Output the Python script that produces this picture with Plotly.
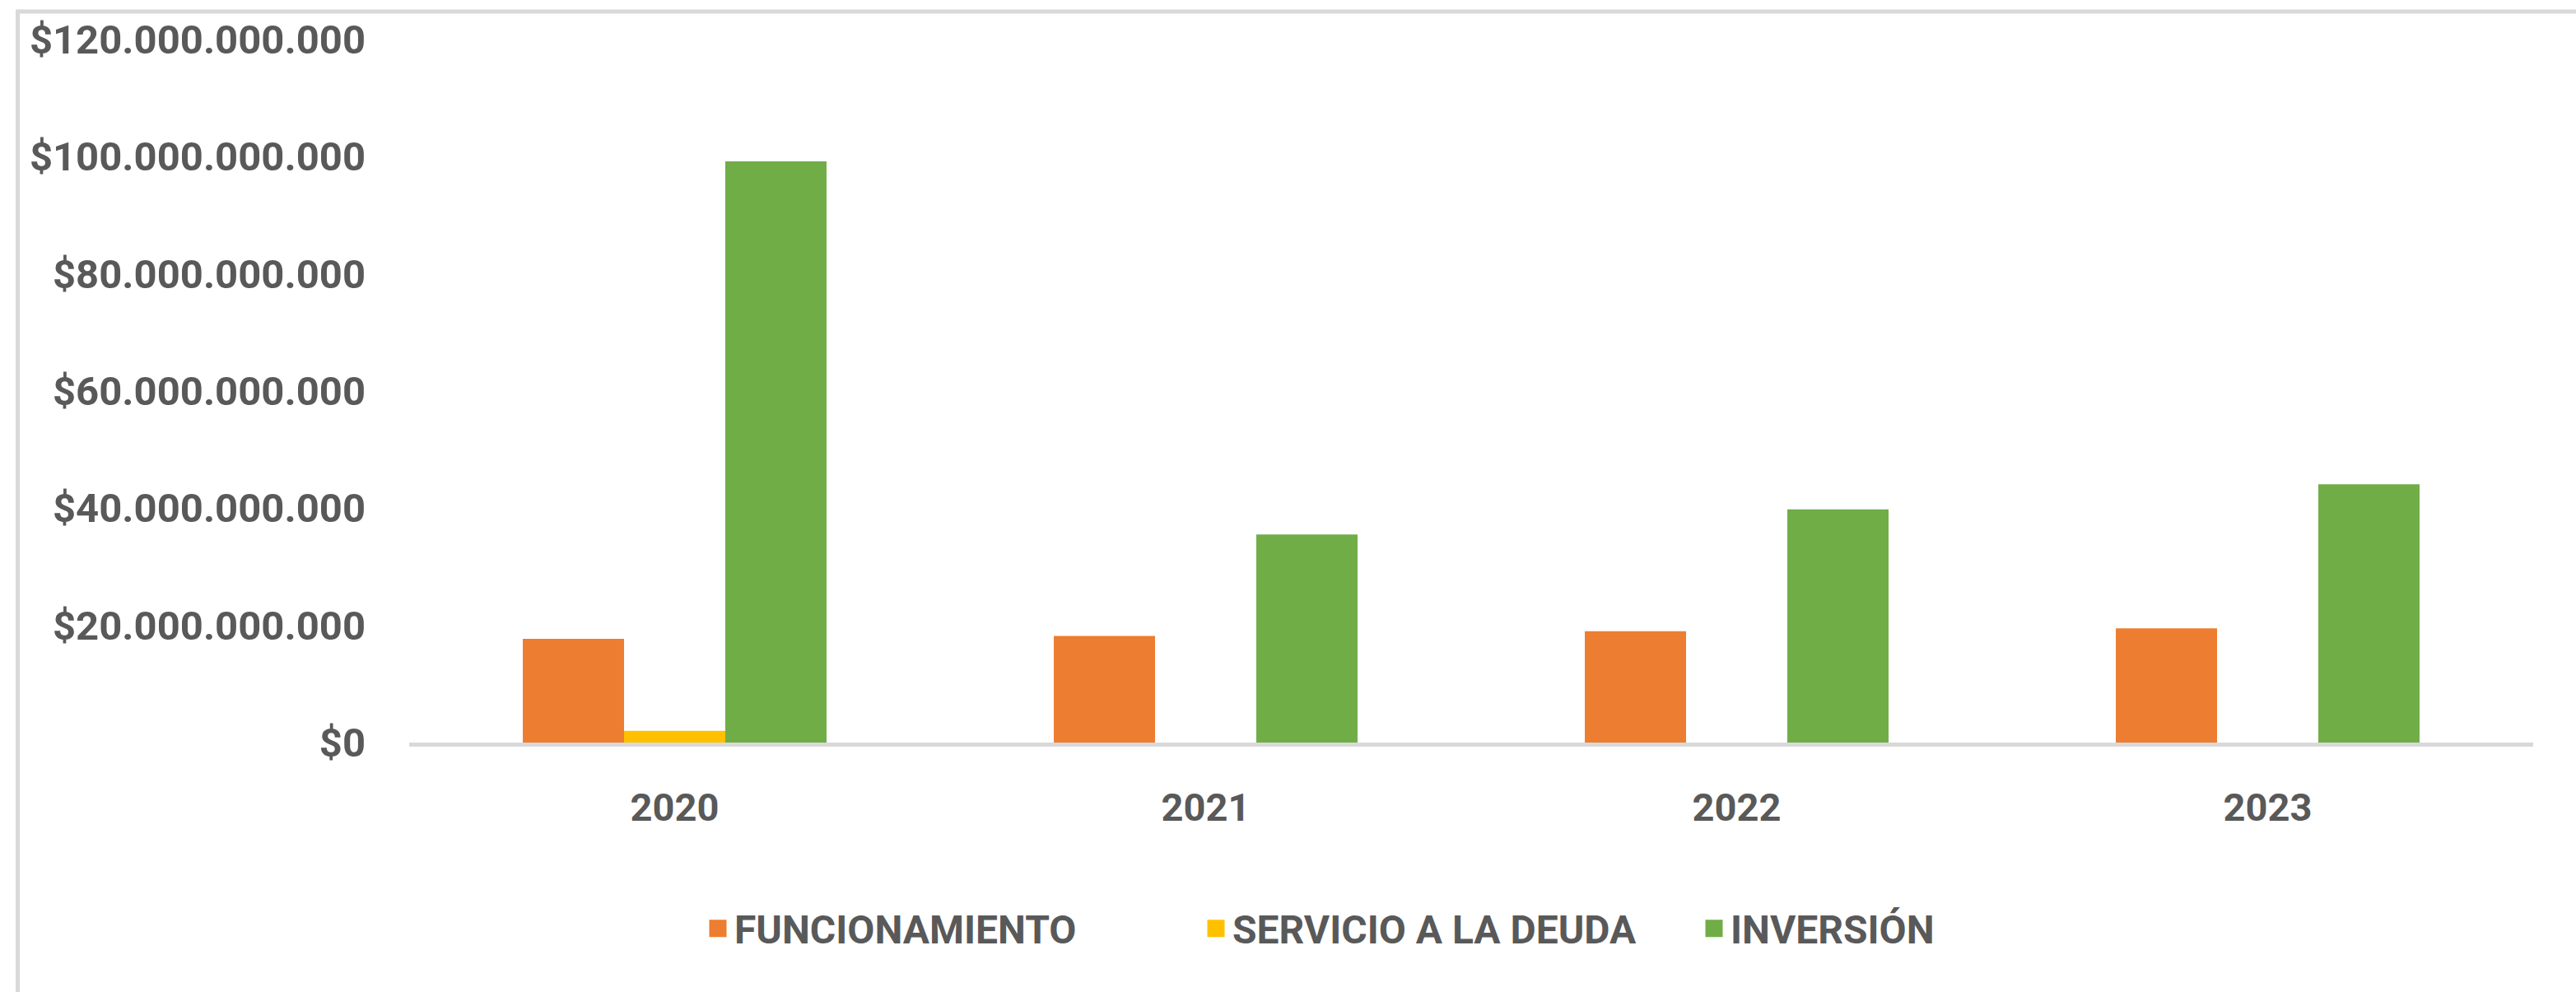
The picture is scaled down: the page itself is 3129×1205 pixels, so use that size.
import plotly.graph_objects as go

years = ["2020", "2021", "2022", "2023"]
funcionamiento = [17.7e9, 18.2e9, 19.0e9, 19.5e9]
servicio_deuda = [2.0e9, 0, 0, 0]
inversion = [99.2e9, 35.5e9, 39.8e9, 44.1e9]

series_names = ["FUNCIONAMIENTO", "SERVICIO A LA DEUDA", "INVERSIÓN"]
series_colors = ["#ED7D31", "#FFC000", "#70AD47"]

y_tick_vals = [0, 20e9, 40e9, 60e9, 80e9, 100e9, 120e9]
y_tick_text = ["$0", "$20.000.000.000", "$40.000.000.000", "$60.000.000.000",
               "$80.000.000.000", "$100.000.000.000", "$120.000.000.000"]

W, H = 3129, 1205
L, R, T, B = 497, 52, 48, 303
pw, ph = W - L - R, H - T - B

def px_x(x):
    return (x - L) / pw

def px_y(y):
    return (H - B - y) / ph

fig = go.Figure()
for name, vals, col in zip(series_names, [funcionamiento, servicio_deuda, inversion], series_colors):
    fig.add_trace(go.Bar(x=years, y=vals, name=name, marker=dict(color=col, line=dict(width=0)),
                         showlegend=False))
    fig.add_trace(go.Scatter(x=[None], y=[None], mode="markers", name=name,
                             marker=dict(symbol="square", size=29, color=col,
                                         line=dict(color=col, width=6))))

text_color = "#595959"
fig.update_layout(
    width=W, height=H,
    margin=dict(l=L, r=R, t=T, b=B, autoexpand=False),
    paper_bgcolor="white", plot_bgcolor="white",
    barmode="group", bargap=0.428, bargroupgap=0,
    font=dict(family="Roboto, sans-serif", color=text_color),
    showlegend=True,
    legend=dict(orientation="h", x=px_x(852), xanchor="left", y=px_y(1128), yanchor="middle",
                font=dict(size=48, color=text_color, weight="bold"),
                itemsizing="trace", bgcolor="rgba(0,0,0,0)",
                entrywidth=560, entrywidthmode="pixels"),
    xaxis=dict(showgrid=False, showline=True, linecolor="#D9D9D9", linewidth=5,
               ticks="", tickfont=dict(size=47, color=text_color, weight="bold"),
               ticklabelstandoff=34, zeroline=False),
    yaxis=dict(range=[0, 120e9], showgrid=False, showline=False, zeroline=False,
               tickvals=y_tick_vals, ticktext=y_tick_text, ticks="",
               tickfont=dict(size=49, color=text_color, weight="bold"),
               ticklabelstandoff=52),
    shapes=[
        dict(type="line", xref="paper", yref="paper", x0=px_x(21.5), x1=px_x(W + 10),
             y0=px_y(14), y1=px_y(14), line=dict(color="#D9D9D9", width=5)),
        dict(type="line", xref="paper", yref="paper", x0=px_x(21.5), x1=px_x(21.5),
             y0=px_y(11.5), y1=px_y(H + 10), line=dict(color="#D9D9D9", width=5)),
    ],
)

fig.write_html("out.html")
